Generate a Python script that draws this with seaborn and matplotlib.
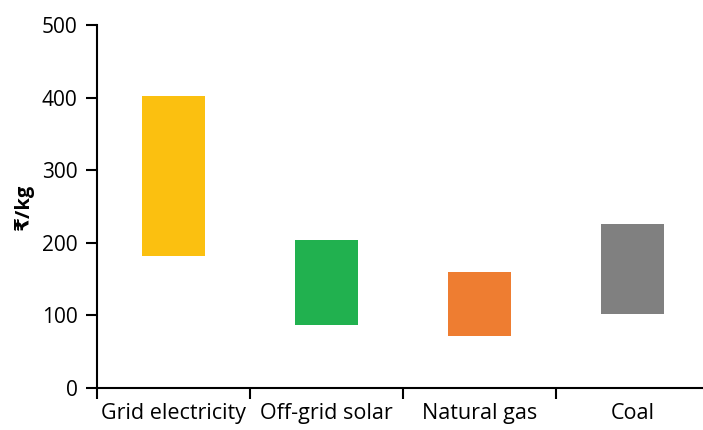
import numpy as np
import pandas as pd
import seaborn as sns
import matplotlib.pyplot as plt

sources = ['Grid electricity', 'Off-grid solar', 'Natural gas', 'Coal']
low = [182, 87, 72, 102]
high = [402, 204, 160, 226]
colors = ['#FBC010', '#21B14F', '#EE7D31', '#808080']

df = pd.DataFrame({'source': sources, 'low': low, 'high': high})
df['span'] = df['high'] - df['low']

sns.set_style('ticks')
plt.rcParams['font.family'] = ['Open Sans', 'DejaVu Sans']
plt.rcParams['text.color'] = 'black'
plt.rcParams['xtick.color'] = 'black'
plt.rcParams['ytick.color'] = 'black'
plt.rcParams['axes.labelcolor'] = 'black'

fig = plt.figure(figsize=(7.03, 4.30), dpi=100)
ax = fig.add_axes([0.138, 0.098, 0.862, 0.844])

sns.barplot(data=df, x='source', y='span', bottom=df['low'], order=sources,
            width=0.41, errorbar=None, color='gray', linewidth=0, ax=ax)
for patch, c in zip(ax.patches, colors):
    patch.set_facecolor(c)

ax.set_ylim(0, 500)
ax.set_xlim(-0.5, 3.46)
ax.set_yticks(range(0, 501, 100))
ax.set_xticks([-0.5, 0.5, 1.5, 2.5])
ax.set_xticklabels([])
ax.set_xticks(range(len(sources)), minor=True)
ax.set_xticklabels(sources, minor=True)
ax.tick_params(axis='x', which='minor', length=0, pad=11, labelsize=15.5)
ax.tick_params(axis='x', which='major', length=8, width=1.5)
ax.tick_params(axis='y', length=8, width=1.5, pad=6, labelsize=15)
ax.set_xlabel('')
ax.set_ylabel('₹/kg', fontsize=14.5, fontweight='bold', labelpad=6)
sns.despine(ax=ax)
for s in ['left', 'bottom']:
    ax.spines[s].set_linewidth(1.5)
    ax.spines[s].set_color('black')

fig.savefig('out.png', dpi=100)
